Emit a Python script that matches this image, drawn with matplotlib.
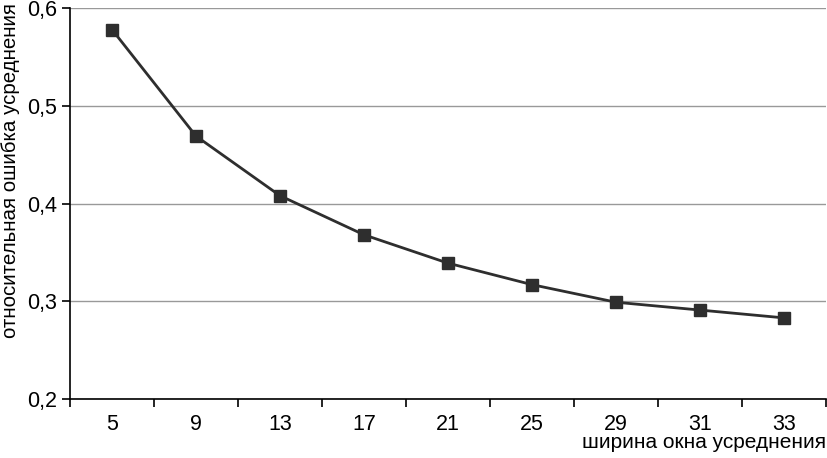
import matplotlib
matplotlib.use("Agg")
import matplotlib.pyplot as plt
import numpy as np

plt.rcParams['font.family'] = ['Liberation Sans', 'DejaVu Sans']

widths = ["5", "9", "13", "17", "21", "25", "29", "31", "33"]
errors = [0.578, 0.469, 0.408, 0.368, 0.339, 0.317, 0.299, 0.291, 0.283]
yticks = [0.2, 0.3, 0.4, 0.5, 0.6]
ytick_labels = ["0,2", "0,3", "0,4", "0,5", "0,6"]

fig = plt.figure(figsize=(8.28, 4.58), dpi=100)
ax = fig.add_axes([0.0845, 0.1288, 0.9131, 0.8537])

x = np.arange(len(widths))
ax.plot(x, errors, color="#2e2e2e", lw=2, marker="s", markersize=9,
        markerfacecolor="#2e2e2e", markeredgecolor="#2e2e2e", zorder=3)

ax.set_xlim(-0.5, len(widths) - 0.5)
ax.set_ylim(0.2, 0.6)
ax.set_yticks(yticks)
ax.set_yticklabels(ytick_labels, fontsize=15.5)
ax.set_xticks(x)
ax.set_xticklabels(widths, fontsize=15.5)
ax.set_xticks(np.arange(len(widths) + 1) - 0.5, minor=True)
ax.tick_params(axis="x", which="major", length=0, pad=11)
ax.tick_params(axis="x", which="minor", length=6, width=1.2, direction="out")
ax.tick_params(axis="y", length=6, width=1.2, direction="out", pad=3)

ax.yaxis.grid(True, color="#999999", lw=1)
ax.set_axisbelow(True)
for s in ["top", "right"]:
    ax.spines[s].set_visible(False)
ax.spines["left"].set_linewidth(1.2)
ax.spines["bottom"].set_linewidth(1.2)

fig.text(0.001, 0.628, "относительная ошибка усреднения", rotation=90,
         ha="left", va="center", fontsize=14.8)
fig.text(0.998, 0.033, "ширина окна усреднения", ha="right", va="center",
         fontsize=15)

fig.savefig("out.png", dpi=100)
